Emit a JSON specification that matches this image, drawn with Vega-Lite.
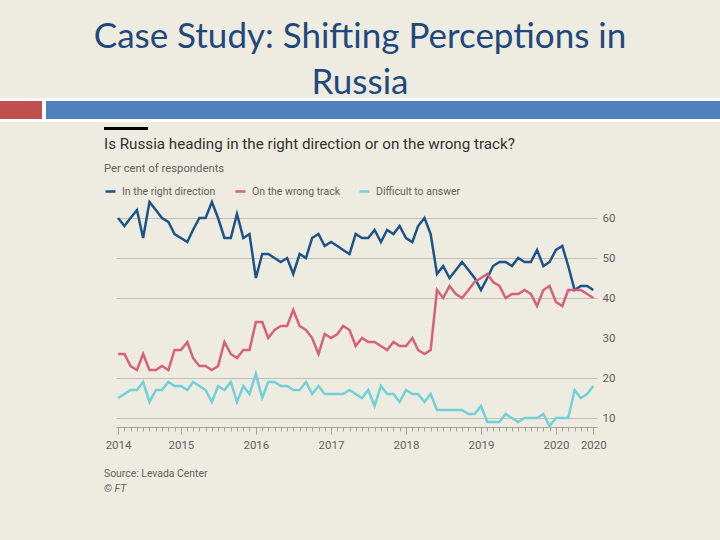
{
  "$schema": "https://vega.github.io/schema/vega-lite/v6.json",
  "background": "#EEECE1",
  "padding": {"top": 20, "left": 0, "right": 0, "bottom": 45},
  "config": {"view": {"stroke": null}},
  "title": {
    "text": ["Case Study: Shifting Perceptions in", "Russia"],
    "font": "Lato", "fontSize": 35, "fontWeight": "normal", "color": "#1F497D",
    "lineHeight": 46, "anchor": "middle", "offset": -3
  },
  "spacing": 0,
  "resolve": {"scale": {"color": "independent"}, "legend": {"color": "independent"}},
  "vconcat": [
    {"width": 720, "height": 3, "view": {"fill": "#FFFFFF", "stroke": null}, "data": {"values": []}, "mark": "point"},
    {
      "spacing": 0,
      "hconcat": [
        {"width": 42, "height": 18, "view": {"fill": "#C0504D", "stroke": null}, "data": {"values": []}, "mark": "point"},
        {"width": 4, "height": 18, "view": {"fill": "#FFFFFF", "stroke": null}, "data": {"values": []}, "mark": "point"},
        {"width": 674, "height": 18, "view": {"fill": "#4F81BD", "stroke": null}, "data": {"values": []}, "mark": "point"}
      ]
    },
    {"width": 720, "height": 3, "view": {"fill": "#FFFFFF", "stroke": null}, "data": {"values": []}, "mark": "point"},
    {"width": 720, "height": 5, "data": {"values": []}, "mark": "point"},
    {
      "spacing": 0,
      "hconcat": [
        {"width": 104, "height": 3, "data": {"values": []}, "mark": "point"},
        {"width": 44, "height": 3, "view": {"fill": "#000000", "stroke": null}, "data": {"values": []}, "mark": "point"}
      ]
    },
    {"width": 720, "height": 6, "data": {"values": []}, "mark": "point"},
    {
      "spacing": 0,
      "resolve": {"scale": {"color": "independent"}, "legend": {"color": "independent"}},
      "hconcat": [
        {"width": 104, "height": 1, "data": {"values": []}, "mark": "point"},
        {
          "spacing": 0,
          "resolve": {"scale": {"color": "independent"}, "legend": {"color": "independent"}},
          "title": {
            "text": "Source: Levada Center", "subtitle": "© FT", "orient": "bottom", "anchor": "start",
            "font": "Roboto", "fontSize": 10.4, "fontWeight": "normal", "color": "#66605C",
            "subtitleFont": "Roboto", "subtitleFontSize": 10.4, "subtitleFontStyle": "italic", "subtitleColor": "#66605C",
            "subtitlePadding": 5, "offset": 18
          },
          "vconcat": [
            {
              "width": 481,
              "height": 227,
              "title": {
                "text": "Is Russia heading in the right direction or on the wrong track?",
                "subtitle": "Per cent of respondents",
                "anchor": "start", "font": "Roboto", "fontSize": 15.2, "fontWeight": "normal", "color": "#33302E",
                "subtitleFont": "Roboto", "subtitleFontSize": 11.3, "subtitleColor": "#66605C", "subtitlePadding": 11, "offset": 11
              },
              "data": {
                "values": [
                  {"date": "2014/03/01", "In the right direction": 60, "On the wrong track": 26, "Difficult to answer": 15},
                  {"date": "2014/04/01", "In the right direction": 58, "On the wrong track": 26, "Difficult to answer": 16},
                  {"date": "2014/05/01", "In the right direction": 60, "On the wrong track": 23, "Difficult to answer": 17},
                  {"date": "2014/06/01", "In the right direction": 62, "On the wrong track": 22, "Difficult to answer": 17},
                  {"date": "2014/07/01", "In the right direction": 55, "On the wrong track": 26, "Difficult to answer": 19},
                  {"date": "2014/08/01", "In the right direction": 64, "On the wrong track": 22, "Difficult to answer": 14},
                  {"date": "2014/09/01", "In the right direction": 62, "On the wrong track": 22, "Difficult to answer": 17},
                  {"date": "2014/10/01", "In the right direction": 60, "On the wrong track": 23, "Difficult to answer": 17},
                  {"date": "2014/11/01", "In the right direction": 59, "On the wrong track": 22, "Difficult to answer": 19},
                  {"date": "2014/12/01", "In the right direction": 56, "On the wrong track": 27, "Difficult to answer": 18},
                  {"date": "2015/01/01", "In the right direction": 55, "On the wrong track": 27, "Difficult to answer": 18},
                  {"date": "2015/02/01", "In the right direction": 54, "On the wrong track": 29, "Difficult to answer": 17},
                  {"date": "2015/03/01", "In the right direction": 57, "On the wrong track": 25, "Difficult to answer": 19},
                  {"date": "2015/04/01", "In the right direction": 60, "On the wrong track": 23, "Difficult to answer": 18},
                  {"date": "2015/05/01", "In the right direction": 60, "On the wrong track": 23, "Difficult to answer": 17},
                  {"date": "2015/06/01", "In the right direction": 64, "On the wrong track": 22, "Difficult to answer": 14},
                  {"date": "2015/07/01", "In the right direction": 60, "On the wrong track": 23, "Difficult to answer": 18},
                  {"date": "2015/08/01", "In the right direction": 55, "On the wrong track": 29, "Difficult to answer": 17},
                  {"date": "2015/09/01", "In the right direction": 55, "On the wrong track": 26, "Difficult to answer": 19},
                  {"date": "2015/10/01", "In the right direction": 61, "On the wrong track": 25, "Difficult to answer": 14},
                  {"date": "2015/11/01", "In the right direction": 55, "On the wrong track": 27, "Difficult to answer": 18},
                  {"date": "2015/12/01", "In the right direction": 56, "On the wrong track": 27, "Difficult to answer": 16},
                  {"date": "2016/01/01", "In the right direction": 45, "On the wrong track": 34, "Difficult to answer": 21},
                  {"date": "2016/02/01", "In the right direction": 51, "On the wrong track": 34, "Difficult to answer": 15},
                  {"date": "2016/03/01", "In the right direction": 51, "On the wrong track": 30, "Difficult to answer": 19},
                  {"date": "2016/04/01", "In the right direction": 50, "On the wrong track": 32, "Difficult to answer": 19},
                  {"date": "2016/05/01", "In the right direction": 49, "On the wrong track": 33, "Difficult to answer": 18},
                  {"date": "2016/06/01", "In the right direction": 50, "On the wrong track": 33, "Difficult to answer": 18},
                  {"date": "2016/07/01", "In the right direction": 46, "On the wrong track": 37, "Difficult to answer": 17},
                  {"date": "2016/08/01", "In the right direction": 51, "On the wrong track": 33, "Difficult to answer": 17},
                  {"date": "2016/09/01", "In the right direction": 50, "On the wrong track": 32, "Difficult to answer": 19},
                  {"date": "2016/10/01", "In the right direction": 55, "On the wrong track": 30, "Difficult to answer": 16},
                  {"date": "2016/11/01", "In the right direction": 56, "On the wrong track": 26, "Difficult to answer": 18},
                  {"date": "2016/12/01", "In the right direction": 53, "On the wrong track": 31, "Difficult to answer": 16},
                  {"date": "2017/01/01", "In the right direction": 54, "On the wrong track": 30, "Difficult to answer": 16},
                  {"date": "2017/02/01", "In the right direction": 53, "On the wrong track": 31, "Difficult to answer": 16},
                  {"date": "2017/03/01", "In the right direction": 52, "On the wrong track": 33, "Difficult to answer": 16},
                  {"date": "2017/04/01", "In the right direction": 51, "On the wrong track": 32, "Difficult to answer": 17},
                  {"date": "2017/05/01", "In the right direction": 56, "On the wrong track": 28, "Difficult to answer": 16},
                  {"date": "2017/06/01", "In the right direction": 55, "On the wrong track": 30, "Difficult to answer": 15},
                  {"date": "2017/07/01", "In the right direction": 55, "On the wrong track": 29, "Difficult to answer": 17},
                  {"date": "2017/08/01", "In the right direction": 57, "On the wrong track": 29, "Difficult to answer": 13},
                  {"date": "2017/09/01", "In the right direction": 54, "On the wrong track": 28, "Difficult to answer": 18},
                  {"date": "2017/10/01", "In the right direction": 57, "On the wrong track": 27, "Difficult to answer": 16},
                  {"date": "2017/11/01", "In the right direction": 56, "On the wrong track": 29, "Difficult to answer": 16},
                  {"date": "2017/12/01", "In the right direction": 58, "On the wrong track": 28, "Difficult to answer": 14},
                  {"date": "2018/01/01", "In the right direction": 55, "On the wrong track": 28, "Difficult to answer": 17},
                  {"date": "2018/02/01", "In the right direction": 54, "On the wrong track": 30, "Difficult to answer": 16},
                  {"date": "2018/03/01", "In the right direction": 58, "On the wrong track": 27, "Difficult to answer": 16},
                  {"date": "2018/04/01", "In the right direction": 60, "On the wrong track": 26, "Difficult to answer": 14},
                  {"date": "2018/05/01", "In the right direction": 56, "On the wrong track": 27, "Difficult to answer": 16},
                  {"date": "2018/06/01", "In the right direction": 46, "On the wrong track": 42, "Difficult to answer": 12},
                  {"date": "2018/07/01", "In the right direction": 48, "On the wrong track": 40, "Difficult to answer": 12},
                  {"date": "2018/08/01", "In the right direction": 45, "On the wrong track": 43, "Difficult to answer": 12},
                  {"date": "2018/09/01", "In the right direction": 47, "On the wrong track": 41, "Difficult to answer": 12},
                  {"date": "2018/10/01", "In the right direction": 49, "On the wrong track": 40, "Difficult to answer": 12},
                  {"date": "2018/11/01", "In the right direction": 47, "On the wrong track": 42, "Difficult to answer": 11},
                  {"date": "2018/12/01", "In the right direction": 45, "On the wrong track": 44, "Difficult to answer": 11},
                  {"date": "2019/01/01", "In the right direction": 42, "On the wrong track": 45, "Difficult to answer": 13},
                  {"date": "2019/02/01", "In the right direction": 45, "On the wrong track": 46, "Difficult to answer": 9},
                  {"date": "2019/03/01", "In the right direction": 48, "On the wrong track": 44, "Difficult to answer": 9},
                  {"date": "2019/04/01", "In the right direction": 49, "On the wrong track": 43, "Difficult to answer": 9},
                  {"date": "2019/05/01", "In the right direction": 49, "On the wrong track": 40, "Difficult to answer": 11},
                  {"date": "2019/06/01", "In the right direction": 48, "On the wrong track": 41, "Difficult to answer": 10},
                  {"date": "2019/07/01", "In the right direction": 50, "On the wrong track": 41, "Difficult to answer": 9},
                  {"date": "2019/08/01", "In the right direction": 49, "On the wrong track": 42, "Difficult to answer": 10},
                  {"date": "2019/09/01", "In the right direction": 49, "On the wrong track": 41, "Difficult to answer": 10},
                  {"date": "2019/10/01", "In the right direction": 52, "On the wrong track": 38, "Difficult to answer": 10},
                  {"date": "2019/11/01", "In the right direction": 48, "On the wrong track": 42, "Difficult to answer": 11},
                  {"date": "2019/12/01", "In the right direction": 49, "On the wrong track": 43, "Difficult to answer": 8},
                  {"date": "2020/01/01", "In the right direction": 52, "On the wrong track": 39, "Difficult to answer": 10},
                  {"date": "2020/02/01", "In the right direction": 53, "On the wrong track": 38, "Difficult to answer": 10},
                  {"date": "2020/03/01", "In the right direction": 48, "On the wrong track": 42, "Difficult to answer": 10},
                  {"date": "2020/04/01", "In the right direction": 42, "On the wrong track": 42, "Difficult to answer": 17},
                  {"date": "2020/05/01", "In the right direction": 43, "On the wrong track": 42, "Difficult to answer": 15},
                  {"date": "2020/06/01", "In the right direction": 43, "On the wrong track": 41, "Difficult to answer": 16},
                  {"date": "2020/07/01", "In the right direction": 42, "On the wrong track": 40, "Difficult to answer": 18}
                ]
              },
              "transform": [
                {"fold": ["In the right direction", "On the wrong track", "Difficult to answer"], "as": ["series", "value"]}
              ],
              "mark": {"type": "line", "strokeWidth": 2.5},
              "encoding": {
                "x": {
                  "field": "date", "type": "temporal",
                  "scale": {"domain": [{"year": 2014, "month": 2, "date": 19}, {"year": 2020, "month": 7, "date": 19}]},
                  "axis": {
                    "title": null, "grid": false,
                    "tickCount": {"interval": "month", "step": 1},
                    "labelExpr": "(month(datum.value) === 0 || (year(datum.value) === 2014 && month(datum.value) === 2) || (year(datum.value) === 2020 && month(datum.value) === 6)) ? timeFormat(datum.value, '%Y') : ''",
                    "tickSize": {"condition": {"test": "month(datum.value) === 0 || (year(datum.value) === 2014 && month(datum.value) === 2) || (year(datum.value) === 2020 && month(datum.value) === 6)", "value": 7}, "value": 4},
                    "domainColor": "#A7A39B", "tickColor": "#A7A39B",
                    "labelColor": "#66605C", "labelFont": "Roboto", "labelFontSize": 11.5,
                    "labelOverlap": false, "labelBound": false, "labelFlush": false, "labelPadding": 5
                  }
                },
                "y": {
                  "field": "value", "type": "quantitative",
                  "scale": {"domain": [7.75, 64.5], "nice": false, "zero": false},
                  "axis": {
                    "orient": "right", "title": null, "values": [10, 20, 30, 40, 50, 60],
                    "domain": false, "ticks": false, "grid": true,
                    "gridColor": {"condition": {"test": "datum.value === 30", "value": "transparent"}, "value": "#C3BFB5"},
                    "labelColor": "#66605C", "labelFont": "Roboto", "labelFontSize": 11.5, "labelPadding": 5
                  }
                },
                "color": {
                  "field": "series", "type": "nominal",
                  "scale": {"domain": ["In the right direction", "On the wrong track", "Difficult to answer"], "range": ["#1D5488", "#D5617F", "#72D0D8"]},
                  "legend": {
                    "orient": "none", "legendX": -12, "legendY": -15, "direction": "horizontal", "title": null,
                    "symbolType": "stroke", "symbolStrokeWidth": 2.5, "symbolSize": 100,
                    "labelFont": "Roboto", "labelFontSize": 10.5, "labelColor": "#66605C", "labelOffset": 5, "columnPadding": 14
                  }
                }
              }
            }
          ]
        }
      ]
    }
  ]
}
